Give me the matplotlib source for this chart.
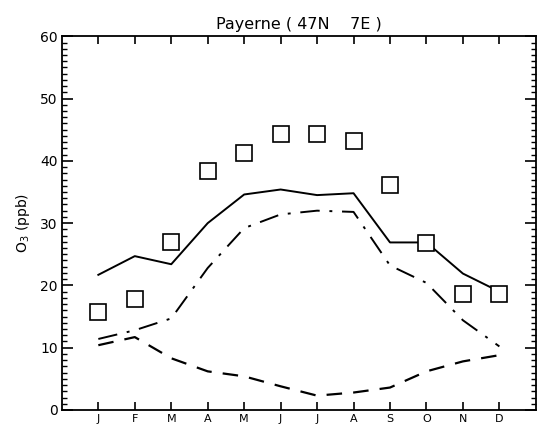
import matplotlib
matplotlib.use("Agg")
import matplotlib.pyplot as plt
from matplotlib.ticker import MultipleLocator

# monthly ozone at Payerne (ppb)
months = [1, 2, 3, 4, 5, 6, 7, 8, 9, 10, 11, 12]
month_labels = ['J', 'F', 'M', 'A', 'M', 'J', 'J', 'A', 'S', 'O', 'N', 'D']
observed = [15.8, 17.8, 26.9, 38.3, 41.2, 44.3, 44.3, 43.2, 36.1, 26.8, 18.7, 18.7]
model_total = [21.7, 24.7, 23.4, 30.0, 34.6, 35.4, 34.5, 34.8, 26.9, 26.9, 21.9, 19.0]
model_dashdot = [11.4, 12.8, 14.7, 22.8, 29.2, 31.4, 32.0, 31.8, 23.2, 20.4, 14.4, 10.2]
model_dashed = [10.4, 11.7, 8.3, 6.2, 5.4, 3.8, 2.3, 2.8, 3.6, 6.2, 7.8, 8.8]


def main():
    fig = plt.figure(figsize=(5.38, 4.32), dpi=100)
    ax = fig.add_axes([0.115, 0.051, 0.881, 0.865])

    ax.plot(months, model_total, color='black', lw=1.4)
    ax.plot(months, model_dashdot, color='black', lw=1.4, dashes=(10, 5, 1.5, 5))
    ax.plot(months, model_dashed, color='black', lw=1.6, dashes=(7, 5))
    ax.plot(months, observed, linestyle='none', marker='s', markersize=11,
            markerfacecolor='white', markeredgecolor='black', markeredgewidth=1.2)

    ax.set_xlim(0, 13)
    ax.set_ylim(0, 60)
    ax.set_xticks(months)
    ax.set_xticklabels(month_labels)
    ax.yaxis.set_major_locator(MultipleLocator(10))
    ax.yaxis.set_minor_locator(MultipleLocator(1))

    ax.tick_params(axis='x', which='major', direction='in', top=True, bottom=True,
                   length=6, width=1.2, pad=3, labelsize=8)
    ax.tick_params(axis='y', which='major', direction='in', left=True, right=True,
                   length=8, width=1.2, labelsize=10, pad=3)
    ax.tick_params(axis='y', which='minor', direction='in', left=True, right=True,
                   length=3.5, width=1.0)
    for s in ax.spines.values():
        s.set_linewidth(1.3)

    ax.set_ylabel('O$_3$ (ppb)', fontsize=10, labelpad=6)
    ax.set_title('Payerne ( 47N    7E )', fontsize=11.5, pad=5)

    fig.savefig('out.png', dpi=100)


if __name__ == "__main__":
    main()
